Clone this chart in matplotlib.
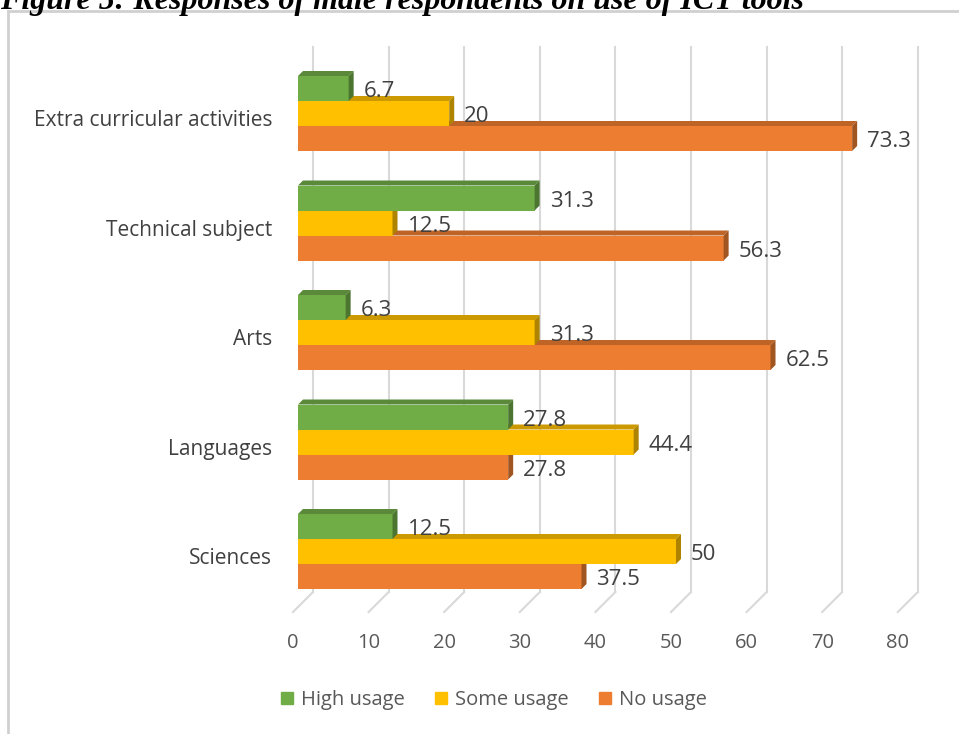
import matplotlib
matplotlib.use('Agg')
import matplotlib.pyplot as plt
from matplotlib.patches import Polygon, Rectangle, Patch
from matplotlib.transforms import ScaledTranslation
from matplotlib.colors import to_rgb

# Chart data
categories = ['Sciences', 'Languages', 'Arts', 'Technical subject', 'Extra curricular activities']
high_usage = [12.5, 27.8, 6.3, 31.3, 6.7]
some_usage = [50, 44.4, 31.3, 12.5, 20]
no_usage = [37.5, 27.8, 62.5, 56.3, 73.3]
series_names = ['High usage', 'Some usage', 'No usage']
x_ticks = [0, 10, 20, 30, 40, 50, 60, 70, 80]
title = 'Figure 5: Responses of male respondents on use of ICT tools'

colors = ['#70AD47', '#FFC000', '#ED7D31']
W, H, DPI = 959, 734, 100
FONT = 'Open Sans'
plt.rcParams['font.family'] = [FONT, 'DejaVu Sans']

fig = plt.figure(figsize=(W / DPI, H / DPI), dpi=DPI)
ax = fig.add_axes([298 / W, 1 - 607 / H, 604.8 / W, 560 / H])
ax.set_xlim(0, 80)
ax.set_ylim(-0.5068, 4.6073)
ax.axis('off')

def px_offset(dx, dy):
    return ScaledTranslation(dx / DPI, dy / DPI, fig.dpi_scale_trans)

# pixel -> data unit conversions
ux = 604.8 / 80.0
uy = 560 / (4.6073 + 0.5068)
bar_h = 25 / uy
depth = 5
ddx, ddy = depth / ux, depth / uy
wall = 15
y0 = -0.5068

def shade(c, f):
    r, g, b = to_rgb(c)
    return (r * f, g * f, b * f)

# back wall gridlines and floor lines
grid_c = '#d9d9d9'
for v in x_ticks:
    ax.plot([v, v], [0, 0.973], color=grid_c, lw=1.5, zorder=1, clip_on=False,
            transform=ax.get_xaxis_transform() + px_offset(wall, wall))
    ax.plot([v - 5 / ux, v + wall / ux], [y0 - 5 / uy, y0 + wall / uy],
            color=grid_c, lw=1.5, zorder=1, clip_on=False)
    ax.text(v, 0, str(v), ha='center', va='center', fontsize=14.5, color='#595959',
            transform=ax.get_xaxis_transform() + px_offset(-5, -36))

# bars: bottom bar first so upper bars cover its top face
series = [high_usage, some_usage, no_usage]
offsets = [bar_h, 0, -bar_h]
for k in [2, 1, 0]:
    vals = series[k]
    ys = [i + offsets[k] for i in range(len(categories))]
    z = 3 + (2 - k)
    ax.barh(ys, vals, height=bar_h, color=colors[k], zorder=z, label=series_names[k])
    for y, v in zip(ys, vals):
        top, bot = y + bar_h / 2, y - bar_h / 2
        ax.add_patch(Polygon([(0, top), (v, top), (v + ddx, top + ddy), (ddx, top + ddy)],
                             closed=True, fc=shade(colors[k], 0.8), ec='none', zorder=z))
        ax.add_patch(Polygon([(v, bot), (v + ddx, bot + ddy), (v + ddx, top + ddy), (v, top)],
                             closed=True, fc=shade(colors[k], 0.68), ec='none', zorder=z))
        ax.text(v, y, f'{v:g}', ha='left', va='center', fontsize=16, color='#404040',
                zorder=10, transform=ax.transData + px_offset(15, -3))

for i, cat in enumerate(categories):
    ax.text(0, i, cat, ha='right', va='center', fontsize=15, color='#404040',
            transform=ax.transData + px_offset(-26, -7))

handles = [Patch(color=c, label=n) for c, n in zip(colors, series_names)]
fig.legend(handles=handles, loc='center', bbox_to_anchor=(494 / W, 1 - 700 / H), ncol=3,
           frameon=False, handlelength=0.6, handleheight=0.6, handletextpad=0.4,
           columnspacing=1.5, fontsize=14.5, labelcolor='#595959')

# chart border and cut-off caption
fig.add_artist(Rectangle((8 / W, -0.1), 1.2, 1.1 - 11 / H, transform=fig.transFigure,
                         fill=False, ec='#d0d0d0', lw=2))
fig.text(0, 1 - 9 / H, title, fontfamily='Liberation Serif', fontweight='bold',
         fontstyle='italic', fontsize=23, va='baseline', ha='left', color='black')

fig.savefig('out.png', dpi=DPI)
